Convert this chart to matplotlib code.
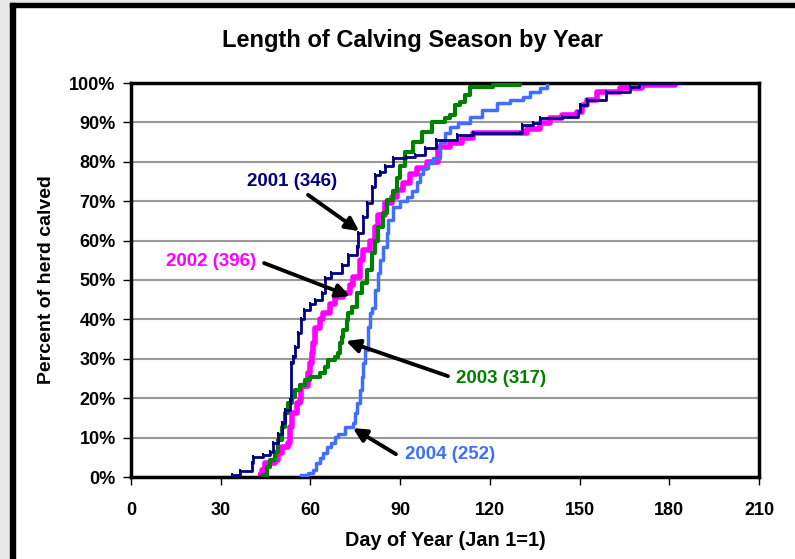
import matplotlib
matplotlib.use("Agg")
import matplotlib.pyplot as plt
from matplotlib.patches import Rectangle
from matplotlib.ticker import FuncFormatter, MultipleLocator

plt.rcParams['font.family'] = ['Liberation Sans', 'DejaVu Sans']

# ---- data (day of year, cumulative percent of herd calved) ----
days_2001 = [33.7, 36.5, 40.3, 40.8, 44, 46.5, 47.5, 49, 50.4, 51.5, 53.2, 53.5, 54.2, 54.8, 56, 57, 58, 60,
             61.5, 63.8, 65, 67, 70.4, 72.6, 75.5, 76, 77.6, 78.8, 80.5, 81.6, 83.3, 85, 87.7, 92, 95, 98.3,
             102, 109, 114.4, 130, 130.6, 134.5, 136.8, 144, 149.5, 150.2, 152.4, 159, 167, 170, 184]
pct_2001 = [0.5, 1.6, 3.5, 5, 5.6, 6.4, 8.6, 11, 13.7, 17, 19.5, 29, 30.5, 33, 36.5, 40, 42.4, 44,
            45, 46.7, 50.5, 51.8, 53.8, 56.3, 58.5, 62, 66, 69.5, 73.7, 76.6, 77.5, 79, 81, 81.3, 81.7, 83.5,
            85.5, 86.8, 87.3, 87.3, 89.3, 89.8, 91, 91.4, 92.7, 94.4, 95.7, 97.8, 99, 99.9, 100]

days_2002 = [42.6, 43.7, 44.8, 48, 49, 50.4, 52.5, 53.2, 53.7, 55.4, 56.5, 57, 59.2, 60, 60.4, 60.9, 61.5,
             63.2, 64.3, 66.5, 68.2, 70.9, 73.2, 74.3, 76.6, 77.6, 80, 81.6, 82.6, 85, 87.2, 88.8, 91, 93.3,
             95.5, 98.9, 102.7, 106.7, 110.6, 114.4, 130, 132.3, 136.8, 140, 144, 149, 150.7, 152.4, 155.7,
             163.5, 171, 182]
pct_2002 = [0.5, 1.8, 3.5, 4.3, 6, 7.7, 8.6, 12.8, 16.2, 18.8, 19.5, 23, 26.4, 29, 31.5, 34, 37.8,
            40, 41.6, 44, 45.8, 46.7, 48.7, 50.8, 55, 57.6, 60, 63.5, 66.5, 69.5, 71, 72.8, 74.6, 77,
            78.4, 80, 83.8, 84.7, 86, 87.3, 87.3, 88.3, 89.8, 91, 91.9, 92.7, 94.4, 95.7, 97.8,
            98.7, 99.5, 100]

days_2003 = [44.2, 45.4, 46.5, 48.2, 49, 50.4, 51.5, 52.5, 53.7, 54.8, 56.5, 58.2, 60, 63.2, 64.9, 65.9,
             68.2, 69.3, 70, 70.4, 70.9, 72.1, 72.6, 73.8, 75.5, 77.1, 78.8, 80.5, 81.6, 82.6, 84.3, 85.5,
             87.6, 88.8, 90, 91.6, 94.3, 97.2, 100.6, 105, 106.7, 108.3, 110, 111.7, 113.4, 121, 130]
pct_2003 = [0.5, 2.6, 4.3, 6.4, 9.4, 12.8, 16.2, 18.8, 20.4, 22, 23.4, 24.6, 25.4, 26.4, 28, 29.7,
            30.5, 31.5, 34, 35.6, 37.3, 39.8, 41.6, 43.2, 46.7, 49.2, 52.5, 56.8, 60, 63.5, 67, 70.3,
            72.6, 76, 79, 82.6, 85, 87.6, 90.2, 91, 91.9, 94.4, 95.2, 97, 99, 99.5, 100]

days_2004 = [57, 59.2, 60.9, 62, 63.2, 64.3, 65.4, 67, 68.2, 69.3, 71.6, 74.3, 74.9, 75.5, 76.6, 77.1,
             77.6, 78.3, 79.3, 80, 80.5, 81.6, 82.6, 83.3, 84.3, 85.5, 86, 87.6, 90, 92.2, 93.8, 95.5,
             96.6, 97.7, 99.3, 101, 103.3, 105, 106.7, 109.4, 113.4, 117.3, 122.3, 126.7, 131.2, 133.4,
             136.8, 139]
pct_2004 = [0.5, 1, 1.8, 3.5, 4.8, 6, 7.7, 8.6, 10.2, 11, 12.8, 13.7, 16.2, 18.8, 22, 25.4,
            29, 32.2, 38, 41.6, 43, 47.5, 51.8, 55, 58.5, 62, 65.2, 68.5, 70, 71, 72.5, 75,
            77, 78.4, 79.8, 81, 85, 87.2, 88.9, 89.8, 91.4, 93.2, 94.8, 95.7, 96.5, 97.8,
            98.7, 99.5]

labels = ["2001 (346)", "2002 (396)", "2003 (317)", "2004 (252)"]
x_ticks = [0, 30, 60, 90, 120, 150, 180, 210]

c2001, c2002, c2003, c2004 = '#000080', '#ff00ff', '#008000', '#3f6fff'

fig = plt.figure(figsize=(7.95, 5.59), dpi=100)
fig.patch.set_facecolor('white')

# screenshot frame: gray strip + thick black border (left & top)
W, H = 795.0, 559.0
fig.patches.append(Rectangle((0, 0), 10 / W, 1, transform=fig.transFigure, color='#e8e8e8', zorder=0))
fig.patches.append(Rectangle((0, 1 - 3 / H), 1, 3 / H, transform=fig.transFigure, color='#e8e8e8', zorder=0))
fig.patches.append(Rectangle((10 / W, 0), 5 / W, 1 - 3 / H, transform=fig.transFigure, color='black', zorder=1))
fig.patches.append(Rectangle((10 / W, 1 - 7 / H), 1 - 10 / W, 4 / H, transform=fig.transFigure, color='black', zorder=1))

ax = fig.add_axes([131 / W, (H - 477) / H, 628 / W, 394 / H])

ax.plot(days_2002, pct_2002, drawstyle='steps-post', color=c2002, lw=4, zorder=2, solid_capstyle='butt')
ax.plot(days_2003, pct_2003, drawstyle='steps-post', color=c2003, lw=3, zorder=3)
ax.plot(days_2004, pct_2004, drawstyle='steps-post', color=c2004, lw=2.5, zorder=4)
ax.plot(days_2001, pct_2001, drawstyle='steps-post', color=c2001, lw=2.0, zorder=5,
        marker='|', markersize=3, markeredgewidth=1.5)

ax.set_xlim(0, 210)
ax.set_ylim(0, 100)
ax.set_xticks(x_ticks)
ax.yaxis.set_major_locator(MultipleLocator(10))
ax.yaxis.set_major_formatter(FuncFormatter(lambda v, p: f"{int(round(v))}%"))
ax.grid(axis='y', color='#999999', lw=1.5, zorder=1)
ax.set_axisbelow(True)
for s in ax.spines.values():
    s.set_linewidth(2.5)
    s.set_color('black')
ax.tick_params(axis='x', direction='out', length=6, width=1, pad=12, labelsize=13)
ax.tick_params(axis='y', direction='out', length=6, width=1, pad=5, labelsize=13)
for lbl in ax.get_xticklabels() + ax.get_yticklabels():
    lbl.set_fontweight('bold')

ax.set_xlabel("Day of Year (Jan 1=1)", fontsize=14.3, fontweight='bold', labelpad=9)
ax.set_ylabel("Percent of herd calved", fontsize=14, fontweight='bold', labelpad=10)

fig.text(412 / W, 1 - 40 / H, "Length of Calving Season by Year", ha='center', va='center',
         fontsize=17, fontweight='bold')

arrow = dict(arrowstyle='-|>', color='black', lw=2.8, mutation_scale=20, shrinkA=0, shrinkB=0)
# (label position, arrow tail, arrow tip) in data coordinates
ann = [
    (labels[0], c2001, (53.8, 74.9), (59.2, 71.6), (76.3, 62.4)),
    (labels[1], c2002, (26.8, 54.6), (44.5, 54.3), (73.2, 45.9)),
    (labels[2], c2003, (123.7, 25.1), (106.0, 25.6), (71.9, 34.5)),
    (labels[3], c2004, (106.7, 5.6), (88.6, 5.8), (74.2, 12.4)),
]
for txt, col, tpos, tail, tip in ann:
    ax.text(tpos[0], tpos[1], txt, color=col, fontsize=13.5, fontweight='bold', ha='center', va='center', zorder=7)
    ax.annotate('', xy=tip, xytext=tail, arrowprops=arrow, zorder=6)

fig.savefig('out.png', dpi=100)
